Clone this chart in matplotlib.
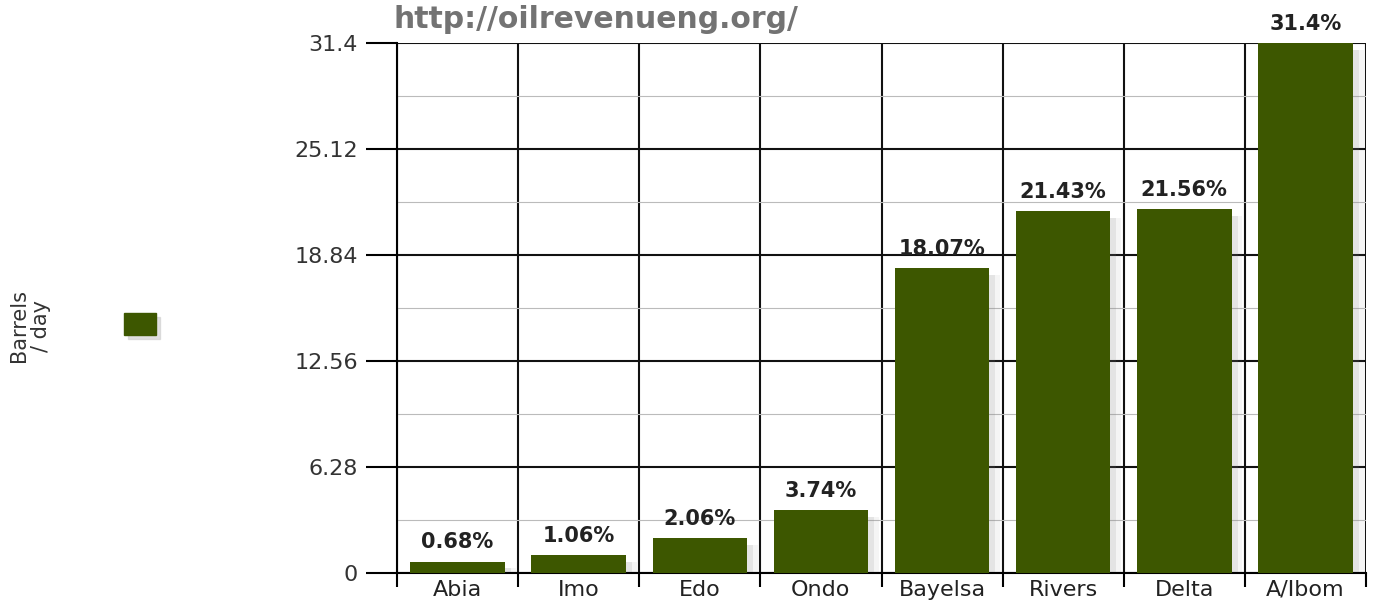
import numpy as np
import matplotlib.pyplot as plt
from matplotlib.ticker import FixedLocator

states = ["Abia", "Imo", "Edo", "Ondo", "Bayelsa", "Rivers", "Delta", "A/Ibom"]
share = [0.68, 1.06, 2.06, 3.74, 18.07, 21.43, 21.56, 31.4]
yticks = [0, 6.28, 12.56, 18.84, 25.12, 31.4]
ytick_labels = ["0", "6.28", "12.56", "18.84", "25.12", "31.4"]
bar_color = "#3d5700"

fig = plt.figure(figsize=(13.76, 6.11), dpi=100)
ax = fig.add_axes([397/1376, 38/611, 969/1376, 530/611])

x = np.arange(len(states))
# soft drop shadow behind the bars
for dx, alpha in [(0.05, 0.14), (0.09, 0.08)]:
    ax.bar(x + dx, np.array(share) - 0.2, width=0.78, bottom=-0.2,
           color="gray", alpha=alpha, zorder=2, linewidth=0)
ax.bar(x, share, width=0.78, color=bar_color, zorder=3)

for xi, v in zip(x, share):
    ax.text(xi, v + 0.55, f"{v}%", ha="center", va="bottom",
            fontsize=15, fontweight="bold", color="#222222", zorder=4,
            clip_on=False)

ax.set_xlim(-0.5, len(states) - 0.5)
ax.set_ylim(0, 31.4)
ax.set_yticks(yticks)
ax.set_yticklabels(ytick_labels, fontsize=16, color="#333333")
ax.yaxis.set_minor_locator(FixedLocator([3.14 + 6.28 * i for i in range(5)]))
ax.set_xticks(x)
ax.set_xticklabels(states, fontsize=16, color="#222222")
ax.xaxis.set_minor_locator(FixedLocator(np.arange(-0.5, len(states), 1)))
ax.tick_params(axis="x", which="major", length=0, pad=5)
ax.tick_params(axis="x", which="minor", length=10, width=1.5)
ax.tick_params(axis="y", which="major", length=22, width=1.5, pad=6)
ax.tick_params(axis="y", which="minor", length=0)

ax.grid(axis="y", which="major", color="#111111", linewidth=1.5, zorder=1)
ax.grid(axis="y", which="minor", color="#bbbbbb", linewidth=0.8, zorder=1)
ax.grid(axis="x", which="minor", color="#111111", linewidth=1.5, zorder=1)
ax.set_axisbelow(True)
for s in ["top", "right"]:
    ax.spines[s].set_visible(False)
ax.spines["left"].set_linewidth(1.5)
ax.spines["bottom"].set_linewidth(1.5)

fig.text(393/1376, 1 - 20/611, "http://oilrevenueng.org/", fontsize=21.5,
         fontweight="bold", color="#737373", va="center", ha="left")

fig.text(30/1376, 1 - 326/611, "Barrels\n/ day", rotation=90, fontsize=15,
         color="#333333", va="center", ha="center", linespacing=1.1)
fig.patches.append(plt.Rectangle((128/1376, 1 - 339/611), 32/1376, 22/611,
                                 transform=fig.transFigure, color="#cccccc",
                                 alpha=0.6, figure=fig))
fig.patches.append(plt.Rectangle((124/1376, 1 - 335/611), 32/1376, 22/611,
                                 transform=fig.transFigure, color=bar_color,
                                 figure=fig))

fig.savefig("out.png", dpi=100)
